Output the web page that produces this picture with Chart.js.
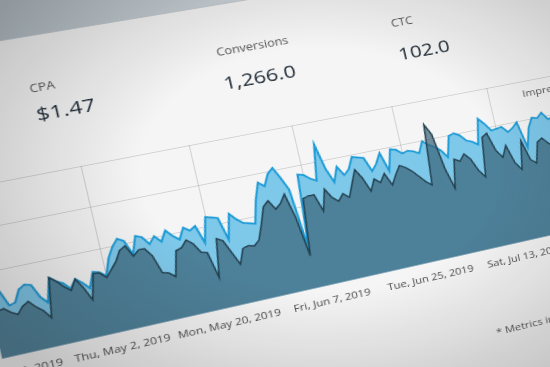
<!DOCTYPE html>
<html>
<head>
<meta charset="utf-8">
<script src="https://cdn.jsdelivr.net/npm/chart.js@4.4.0/dist/chart.umd.min.js"></script>
<style>
html, body { margin: 0; padding: 0; }
body { width: 550px; height: 367px; overflow: hidden; position: relative;
  background: linear-gradient(100deg, #b3bec6 0%, #cdd5da 40%, #dde2e5 100%);
  font-family: "Open Sans", sans-serif; }
#page { position: absolute; left: 0; top: 0; width: 1400px; height: 1000px; transform-origin: 0 0; }
#panel { position: absolute; left: 0; width: 1400px; background: #f5f5f5; box-shadow: 0 -1px 0 #c4ccd1; }
#wrap { position: absolute; left: 300px; top: 300px; width: 620px; height: 225px; }
.t { position: absolute; white-space: nowrap; line-height: 1; }
.lab { color: #555; font-size: 12px; }
.val { color: #1e2a36; font-size: 20.5px; }
.small { color: #555; font-size: 11.5px; }
#shade { position: absolute; left: 0; top: 0; width: 550px; height: 367px; pointer-events: none;
  background: radial-gradient(ellipse 400px 270px at 320px 170px, rgba(0,0,0,0) 0%, rgba(0,0,0,0) 45%, rgba(40,40,40,0.26) 100%); }
</style>
</head>
<body>
<div id="page">
  <div id="panel"></div>
  <div class="t lab" data-x="30.5" data-y="93.5">CPA</div>
  <div class="t val" data-x="38" data-y="121">$1.47</div>
  <div class="t lab" data-x="217.5" data-y="57">Conversions</div>
  <div class="t val" data-x="225" data-y="90">1,266.0</div>
  <div class="t lab" data-x="392" data-y="27.5">CTC</div>
  <div class="t val" data-x="400" data-y="61">102.0</div>
  <div id="wrap"><canvas id="c" width="620" height="225"></canvas></div>
  <div class="t small" data-x="523" data-y="97">Impressions</div>
  <div class="t small" data-x="497" data-y="336">* Metrics in local time</div>
</div>
<div id="shade"></div>
<script>
// daily series, Sat Apr 13 2019 .. Sun Jul 28 2019
var startDay = new Date(2019, 3, 13);
var tickLabels = ["Sun, Apr 14, 2019", "Thu, May 2, 2019", "Mon, May 20, 2019",
                  "Fri, Jun 7, 2019", "Tue, Jun 25, 2019", "Sat, Jul 13, 2019"];

var impressions = [
  1600, 1280, 1520, 1160, 1200, 1480, 1560, 1520, 1200,
  1040, 1600, 1480, 1400, 1240, 1440, 1320, 1160, 1520, 1480,
  1360, 1760, 2000, 2160, 2080, 1720, 2140, 2080, 1880,
  2040, 1880, 2120, 1960, 1840, 2100, 2000, 2080, 1640, 2240,
  2200, 2160, 1600, 2200, 2040, 1920, 1880, 1840, 2400,
  2800, 2680, 2960, 3080, 2800, 2480, 960, 2800, 2760, 2640,
  2560, 3440, 2800, 2440, 2800, 2560, 2680, 2960, 2920, 2880,
  2520, 2680, 2920, 2440, 2960, 2920, 2800, 2840, 2800, 2720,
  3000, 2880, 2800, 2680, 2480, 3000, 3040, 2960, 2800, 2740,
  2640, 3280, 3120, 2920, 2940, 2960, 2800, 2880, 3000, 2320,
  2800, 3040, 3000, 3120, 2920, 2960, 3080, 2880
];
var clicks = [
  1080, 1080, 1120, 1000, 920, 1080, 1160, 1000, 880,
  680, 1600, 1480, 1320, 1200, 1440, 1200, 880, 1480, 1460,
  1320, 1480, 1640, 1880, 1960, 1680, 1800, 1800, 1600,
  1160, 1120, 1000, 1600, 1640, 1800, 1680, 1440, 1400, 760,
  1680, 1600, 1280, 960, 1320, 1360, 1320, 1440, 1800,
  2200, 2320, 2080, 2200, 2400, 1800, 800, 2200, 2240, 2240,
  1800, 2320, 2080, 1960, 2120, 2000, 2320, 2640, 2400, 2040,
  2320, 2200, 2400, 2080, 2320, 2520, 2440, 2320, 2160, 2000,
  1880, 3400, 3120, 2200, 1680, 2400, 2320, 2480, 2320, 2000,
  1800, 2800, 2880, 2400, 2200, 2480, 2000, 1800, 2520, 2000,
  1880, 2400, 2480, 2320, 2200, 2320, 2480, 2280
];

var wd = ["Sun", "Mon", "Tue", "Wed", "Thu", "Fri", "Sat"];
var mo = ["Jan", "Feb", "Mar", "Apr", "May", "Jun", "Jul", "Aug", "Sep", "Oct", "Nov", "Dec"];
var days = [];
for (var i = 0; i < impressions.length; i++) {
  var d = new Date(startDay.getFullYear(), startDay.getMonth(), startDay.getDate() + i);
  days.push(wd[d.getDay()] + ", " + mo[d.getMonth()] + " " + d.getDate() + ", " + d.getFullYear());
}

var gridColor = 'rgba(0,0,0,0.14)';
var chart = new Chart(document.getElementById('c'), {
  type: 'line',
  data: {
    labels: days,
    datasets: [{
      label: 'Clicks',
      data: clicks,
      borderColor: '#22404f',
      borderWidth: 1.5,
      backgroundColor: 'rgba(57,97,118,0.7)',
      fill: 'origin',
      pointRadius: 0,
      tension: 0
    }, {
      label: 'Impressions',
      data: impressions,
      borderColor: '#1d9bd6',
      borderWidth: 2,
      backgroundColor: '#7ec8ea',
      fill: 'origin',
      pointRadius: 0,
      tension: 0
    }]
  },
  options: {
    responsive: false,
    animation: false,
    layout: { padding: { top: 2, left: 0, right: 0, bottom: 0 } },
    plugins: { legend: { display: false }, tooltip: { enabled: false } },
    scales: {
      x: {
        z: 1,
        grid: { color: gridColor, drawTicks: false },
        border: { display: false },
        ticks: { autoSkip: false, maxRotation: 0, padding: 11, color: '#4a4a4a',
                 font: { family: 'Open Sans', size: 11 } },
        afterBuildTicks: function (s) {
          s.ticks = s.ticks.filter(function (t) { return tickLabels.indexOf(days[t.value]) >= 0; });
        }
      },
      y: {
        z: 1,
        min: 0, max: 4000,
        grid: { color: gridColor, drawTicks: false },
        border: { display: false },
        ticks: { stepSize: 1000, display: false }
      }
    }
  }
});

// perspective of the photo: four points of the plot mapped onto the picture
function solve(A, b) {
  var n = b.length;
  for (var i = 0; i < n; i++) {
    var p = i;
    for (var r = i + 1; r < n; r++) if (Math.abs(A[r][i]) > Math.abs(A[p][i])) p = r;
    var t = A[i]; A[i] = A[p]; A[p] = t; var tb = b[i]; b[i] = b[p]; b[p] = tb;
    for (var r2 = i + 1; r2 < n; r2++) {
      var f = A[r2][i] / A[i][i];
      for (var c = i; c < n; c++) A[r2][c] -= f * A[i][c];
      b[r2] -= f * b[i];
    }
  }
  var x = new Array(n);
  for (var k = n - 1; k >= 0; k--) {
    var s = b[k];
    for (var j = k + 1; j < n; j++) s -= A[k][j] * x[j];
    x[k] = s / A[k][k];
  }
  return x;
}
function homography(src, dst) {
  var A = [], b = [];
  for (var i = 0; i < 4; i++) {
    var u = src[i][0], v = src[i][1], x = dst[i][0], y = dst[i][1];
    A.push([u, v, 1, 0, 0, 0, -u * x, -v * x]); b.push(x);
    A.push([0, 0, 0, u, v, 1, -u * y, -v * y]); b.push(y);
  }
  return solve(A, b);
}
function apply(h, u, v) {
  var w = h[6] * u + h[7] * v + 1;
  return [(h[0] * u + h[1] * v + h[2]) / w, (h[3] * u + h[4] * v + h[5]) / w];
}

var wrap = document.getElementById('wrap');
var ox = wrap.offsetLeft, oy = wrap.offsetTop;
var xs = chart.scales.x, area = chart.chartArea;
var u1 = ox + xs.getPixelForValue(days.indexOf("Thu, May 2, 2019"));
var u2 = ox + xs.getPixelForValue(days.indexOf("Sat, Jul 13, 2019"));
var vt = oy + area.top, vb = oy + area.bottom;
var flat = [[u1, vt], [u2, vt], [u1, vb], [u2, vb]];
var shot = [[81, 166], [487, 88], [119.5, 332.5], [522.5, 241.8]];
var H = homography(flat, shot);
var Hi = homography(shot, flat);

document.getElementById('page').style.transform =
  'matrix3d(' + [H[0], H[3], 0, H[6], H[1], H[4], 0, H[7], 0, 0, 1, 0, H[2], H[5], 0, 1].join(',') + ')';

// top edge of the panel
var e1 = apply(Hi, 0, 42), e2 = apply(Hi, 250, 0);
var panel = document.getElementById('panel');
var top0 = (e1[1] + e2[1]) / 2;
panel.style.top = top0 + 'px';
panel.style.height = (1000 - top0) + 'px';

// place texts
var texts = document.querySelectorAll('.t');
for (var i = 0; i < texts.length; i++) {
  var el = texts[i];
  var p = apply(Hi, parseFloat(el.dataset.x), parseFloat(el.dataset.y));
  var fs = parseFloat(getComputedStyle(el).fontSize);
  el.style.left = p[0] + 'px';
  el.style.top = (p[1] - 0.888 * fs) + 'px';
}
</script>
</body>
</html>
